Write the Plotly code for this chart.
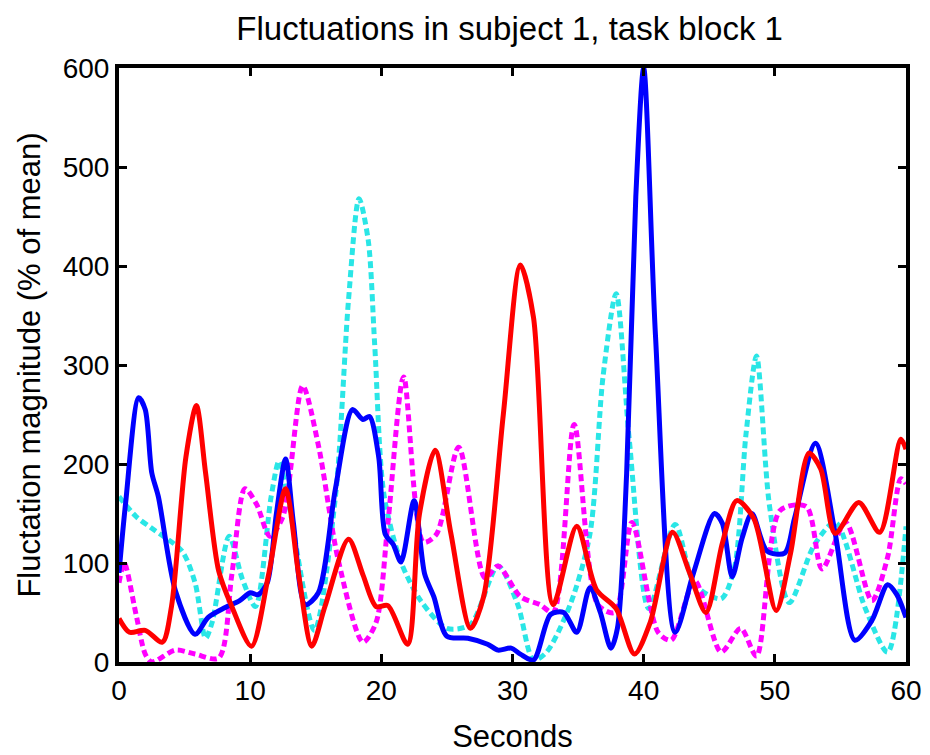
import plotly.graph_objects as go

# Seconds / fluctuation magnitude (% of mean)
blue_t = [0, 0.5, 1.5, 2.0, 2.5, 3.0, 4.3, 5.8, 6.8, 8.1, 9.2, 10.0, 10.6, 11.3, 12.0, 12.7, 13.3, 14.2, 15.2, 16.5, 17.8, 18.6, 19.1, 19.8, 20.3, 20.9, 21.5, 22.5, 23.3, 24.0, 25.0, 26.6, 28.1, 28.9, 29.9, 30.6, 31.6, 32.9, 33.9, 34.9, 35.9, 36.7, 37.5, 38.0, 38.7, 39.4, 40.0, 40.9, 42.4, 43.8, 45.4, 46.0, 46.75, 47.5, 48.25, 49.4, 50.75, 51.5, 53.1, 54.6, 56.1, 57.4, 58.6, 59.3, 60]
blue_v = [90, 160, 267, 255, 191, 167, 72, 28, 45, 55, 62, 70, 68, 80, 150, 205, 140, 58, 70, 175, 255, 245, 248, 207, 129, 119, 101, 163, 89, 66, 26, 24, 18, 12, 14, 8, 2, 48, 50, 30, 75, 50, 14, 34, 190, 470, 600, 330, 30, 90, 150, 140, 86, 125, 150, 112, 110, 145, 221, 130, 22, 42, 78, 68, 45]

red_t = [0, 0.8, 2.0, 3.3, 4.0, 5.1, 5.9, 6.6, 7.6, 8.6, 10.1, 11.4, 12.7, 13.7, 14.7, 15.7, 17.5, 18.6, 19.6, 20.5, 22.0, 22.9, 24.1, 25.3, 26.8, 27.8, 29.3, 30.6, 31.6, 33.1, 34.9, 36.4, 37.9, 39.3, 40.5, 42.2, 43.5, 44.75, 46.0, 47.1, 48.4, 50.1, 51.2, 52.6, 53.5, 54.6, 56.4, 58.0, 59.6, 60]
red_v = [44, 30, 32, 20, 56, 207, 259, 191, 92, 56, 16, 88, 175, 88, 16, 56, 124, 88, 56, 57, 18, 149, 214, 130, 34, 66, 250, 401, 348, 58, 137, 73, 54, 8, 40, 131, 90, 50, 120, 163, 145, 52, 110, 211, 195, 130, 161, 131, 225, 215]

cyan_t = [0, 1.3, 2.5, 4.8, 5.8, 6.6, 7.1, 8.4, 9.4, 10.4, 11.6, 12.2, 12.9, 14.9, 16.5, 17.5, 18.3, 19.0, 19.5, 20.2, 21.5, 23.0, 25.0, 26.8, 28.9, 30.4, 31.6, 32.6, 34.4, 35.9, 36.9, 37.9, 38.9, 40.4, 42.4, 43.9, 45.9, 46.9, 47.8, 48.6, 49.6, 51.1, 53.0, 54.6, 56.9, 58.6, 60]
cyan_v = [167, 147, 135, 112, 80, 24, 40, 127, 84, 56, 167, 203, 163, 32, 167, 366, 468, 426, 319, 169, 101, 62, 34, 38, 97, 58, 2, 10, 58, 129, 288, 372, 225, 54, 139, 78, 64, 94, 230, 309, 157, 60, 118, 141, 54, 10, 137]

mag_t = [0, 0.4, 1.3, 2.0, 2.5, 4.3, 5.8, 7.6, 8.6, 9.6, 10.5, 11.5, 12.5, 14.0, 15.2, 16.7, 18.6, 19.6, 20.5, 21.7, 23.2, 24.2, 25.9, 27.9, 28.9, 30.6, 32.1, 33.1, 34.7, 36.5, 37.8, 39.1, 41.1, 42.1, 43.9, 45.9, 47.4, 48.6, 50.4, 52.4, 53.6, 55.4, 57.4, 58.6, 59.6, 60]
mag_v = [80, 100, 48, 8, 0, 12, 8, 4, 88, 175, 159, 127, 147, 279, 219, 104, 20, 40, 140, 288, 121, 129, 217, 85, 97, 66, 58, 50, 240, 58, 50, 141, 30, 22, 82, 10, 34, 6, 153, 157, 94, 141, 62, 106, 185, 180]

x_ticks = [0, 10, 20, 30, 40, 50, 60]
y_ticks = [0, 100, 200, 300, 400, 500, 600]

fig = go.Figure()
fig.add_trace(go.Scatter(x=cyan_t, y=cyan_v, mode="lines",
                         line=dict(color="#2ae6e6", width=5, dash="7px,4px", shape="spline", smoothing=0.8)))
fig.add_trace(go.Scatter(x=mag_t, y=mag_v, mode="lines",
                         line=dict(color="#ff00ff", width=5, dash="7px,4px", shape="spline", smoothing=0.8)))
fig.add_trace(go.Scatter(x=blue_t, y=blue_v, mode="lines",
                         line=dict(color="#0000ff", width=5, shape="spline", smoothing=0.8)))
fig.add_trace(go.Scatter(x=red_t, y=red_v, mode="lines",
                         line=dict(color="#ff0000", width=5, shape="spline", smoothing=0.8)))

font = "Liberation Sans, Arial, sans-serif"
axis_common = dict(showline=True, linecolor="black", linewidth=4, mirror="ticks",
                   ticks="inside", ticklen=8, tickwidth=3, tickcolor="black",
                   showgrid=False, zeroline=False, automargin=False,
                   tickfont=dict(family=font, size=28, color="black"))

fig.update_layout(
    width=930, height=755,
    margin=dict(l=119, r=24, t=68, b=93),
    paper_bgcolor="white", plot_bgcolor="white",
    showlegend=False,
    title=dict(text="Fluctuations in subject 1, task block 1", x=0.548, xanchor="center",
               y=0.962, yanchor="middle", font=dict(family=font, size=33, color="black")),
    xaxis=dict(range=[0, 60], tickvals=x_ticks, title=dict(text="Seconds", standoff=22,
               font=dict(family=font, size=31, color="black")), **axis_common),
    yaxis=dict(range=[0, 600], tickvals=y_ticks, title=dict(text="Fluctation magnitude (% of mean)", standoff=14,
               font=dict(family=font, size=31, color="black")), **axis_common),
)

fig.write_html("out.html")
